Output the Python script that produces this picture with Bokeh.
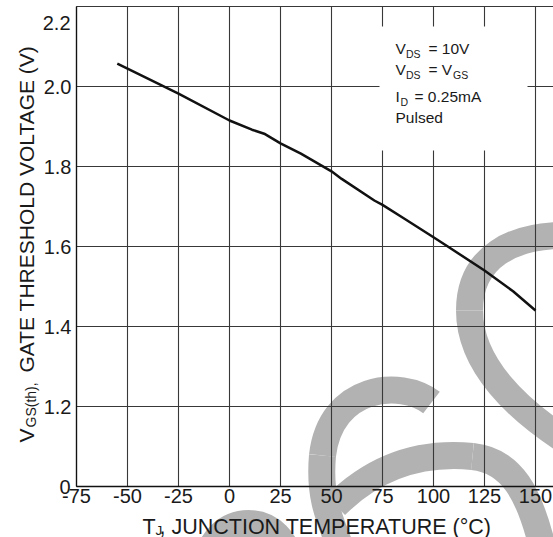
import math
from bokeh.plotting import figure
from bokeh.models import LinearAxis, FixedTicker, ColumnDataSource
from bokeh.core.properties import value
from bokeh.embed import file_html
from bokeh.resources import INLINE

# ---------------- data ----------------
temp_c = [-55, -25, 0, 11, 17, 25, 35, 50, 55, 71, 75, 85, 100, 107, 125, 139, 150]
vgs_th = [2.057, 1.982, 1.915, 1.892, 1.882, 1.858, 1.832, 1.788, 1.769, 1.715,
          1.704, 1.672, 1.623, 1.600, 1.540, 1.488, 1.440]

x_ticks = [-75, -50, -25, 0, 25, 50, 75, 100, 125, 150]
x_tick_labels = ["-75", "-50", "-25", "0", "25", "50", "75", "100", "125", "150"]
y_ticks = [1.0, 1.2, 1.4, 1.6, 1.8, 2.0, 2.2]
y_tick_labels = ["0", "1.2", "1.4", "1.6", "1.8", "2.0", "2.2"]

# ---------------- geometry ----------------
W, H = 553, 537
SX = 2.04        # px per degC
SY = 400.0       # px per V
X_START = -75 - 76 / SX
X_END = X_START + W / SX
Y_END = 2.2 + 6 / SY
Y_START = Y_END - H / SY

def px2x(px):  # canvas px -> data x
    return X_START + px / SX

def py2y(py):  # canvas px -> data y
    return Y_END - py / SY

FONT = value("Liberation Sans")
INK = "#1a1a1a"
GRID = "#383838"
WM = "#b2b2b2"

p = figure(width=W, height=H, output_backend="svg", toolbar_location=None,
           x_axis_type=None, y_axis_type=None, min_border=0,
           x_range=(X_START, X_END), y_range=(Y_START, Y_END))
p.outline_line_color = None
p.background_fill_color = "white"
p.border_fill_color = "white"

# ---------------- watermark (behind everything) ----------------
beziers = [
    [(469, 310), (469, 262), (505, 228), (590, 236)],
    [(469, 310), (469, 360), (510, 410), (590, 455)],
    [(431, 402), (400, 378), (330, 385), (322, 455)],
    [(322, 455), (318, 500), (330, 520), (345, 560)],
    [(335, 505), (380, 460), (430, 452), (472, 456)],
    [(472, 456), (510, 460), (530, 490), (545, 560)],
]
bz = ColumnDataSource(dict(
    x0=[px2x(b[0][0]) for b in beziers], y0=[py2y(b[0][1]) for b in beziers],
    cx0=[px2x(b[1][0]) for b in beziers], cy0=[py2y(b[1][1]) for b in beziers],
    cx1=[px2x(b[2][0]) for b in beziers], cy1=[py2y(b[2][1]) for b in beziers],
    x1=[px2x(b[3][0]) for b in beziers], y1=[py2y(b[3][1]) for b in beziers],
))
p.bezier(x0="x0", y0="y0", x1="x1", y1="y1", cx0="cx0", cy0="cy0", cx1="cx1", cy1="cy1",
         source=bz, line_color=WM, line_width=27)
# small arch under the x title (radius given in x data units = 40 px)
p.arc(x=[px2x(248)], y=[py2y(563)], radius=40 / SX, start_angle=0, end_angle=math.pi,
      line_color=WM, line_width=27)

# ---------------- grid (from the tick lists) ----------------
vgrid = ColumnDataSource(dict(x0=list(x_ticks), x1=list(x_ticks),
                              y0=[y_ticks[0]] * len(x_ticks), y1=[y_ticks[-1]] * len(x_ticks)))
hgrid = ColumnDataSource(dict(x0=[x_ticks[0]] * len(y_ticks), x1=[X_END] * len(y_ticks),
                              y0=list(y_ticks), y1=list(y_ticks)))
p.segment(x0="x0", y0="y0", x1="x1", y1="y1", source=vgrid, line_color=GRID, line_width=1.1)
p.segment(x0="x0", y0="y0", x1="x1", y1="y1", source=hgrid, line_color=GRID, line_width=1.1)

# ---------------- axes ----------------
xaxis = LinearAxis(ticker=FixedTicker(ticks=x_ticks), fixed_location=y_ticks[0],
                   bounds=(x_ticks[0], X_END),
                   major_label_overrides={t: l for t, l in zip(x_ticks, x_tick_labels)},
                   major_tick_in=0, major_tick_out=0, minor_tick_in=0, minor_tick_out=0,
                   axis_line_color="#111111", axis_line_width=1.3,
                   major_label_text_font="Liberation Sans",
                   major_label_text_font_size="20px",
                   major_label_text_color=INK, major_label_standoff=2)
p.add_layout(xaxis, "below")

inner_y = y_ticks[1:-1]
yaxis = LinearAxis(ticker=FixedTicker(ticks=inner_y), fixed_location=x_ticks[0],
                   bounds=(y_ticks[0], y_ticks[-1]),
                   major_label_overrides={t: l for t, l in zip(y_ticks, y_tick_labels) if t in inner_y},
                   major_tick_in=0, major_tick_out=0, minor_tick_in=0, minor_tick_out=0,
                   axis_line_color="#111111", axis_line_width=1.3,
                   major_label_text_font="Liberation Sans",
                   major_label_text_font_size="20px",
                   major_label_text_color=INK, major_label_standoff=5)
p.add_layout(yaxis, "left")

# end labels of the y axis (kept inside the plot height)
ends = ColumnDataSource(dict(x=[x_ticks[0], x_ticks[0]], y=[y_ticks[-1], y_ticks[0]],
                             text=[y_tick_labels[-1], y_tick_labels[0]], yo=[16, 0]))
p.text(x="x", y="y", text="text", source=ends, x_offset=-6, y_offset="yo",
       text_align="right", text_baseline="alphabetic", text_font=FONT,
       text_font_size="20px", text_color=INK)

# ---------------- legend box ----------------
p.quad(left=[px2x(379)], right=[px2x(527)], top=[py2y(26)], bottom=[py2y(150)],
       fill_color="white", line_color=None)

box_pieces = [
    ("V", 395, 48, "15.5px"), ("DS", 405.5, 53, "10.5px"), ("= 10V", 428, 48, "15.5px"),
    ("V", 395, 69, "15.5px"), ("DS", 405.5, 74, "10.5px"), ("= V", 428, 69, "15.5px"),
    ("GS", 452.5, 74, "10.5px"),
    ("I", 395, 96, "15.5px"), ("D", 400, 101, "10.5px"), ("= 0.25mA", 414, 96, "15.5px"),
    ("Pulsed", 395, 116.5, "15.5px"),
]
bp = ColumnDataSource(dict(x=[px2x(b[1]) for b in box_pieces], y=[py2y(b[2]) for b in box_pieces],
                           text=[b[0] for b in box_pieces], size=[b[3] for b in box_pieces]))
p.text(x="x", y="y", text="text", source=bp, text_font_size="size",
       text_align="left", text_baseline="alphabetic", text_font=FONT, text_color=INK)

# ---------------- data curve ----------------
p.line(temp_c, vgs_th, line_color="#111111", line_width=2.5, line_join="round")

# ---------------- axis titles ----------------
xt = [("T", 142, 526, "21.5px"), ("J", 155, 530, "13.5px"),
      (", JUNCTION TEMPERATURE (\u00b0C)", 159, 526, "21.5px")]
xs = ColumnDataSource(dict(x=[px2x(t[1]) for t in xt], y=[py2y(t[2]) for t in xt],
                           text=[t[0] for t in xt], size=[t[3] for t in xt]))
p.text(x="x", y="y", text="text", source=xs, text_font_size="size",
       text_align="left", text_baseline="alphabetic", text_font=FONT, text_color=INK)

yt = [("V", 26, 442, "21px"), ("GS(th),", 30, 427, "14px"),
      ("GATE THRESHOLD VOLTAGE (V)", 26, 372, "21px")]
ys = ColumnDataSource(dict(x=[px2x(t[1]) for t in yt], y=[py2y(t[2]) for t in yt],
                           text=[t[0] for t in yt], size=[t[3] for t in yt]))
p.text(x="x", y="y", text="text", source=ys, text_font_size="size", angle=math.pi / 2,
       text_align="left", text_baseline="alphabetic", text_font=FONT, text_color=INK)

open("out.html", "w").write(file_html(p, INLINE))
